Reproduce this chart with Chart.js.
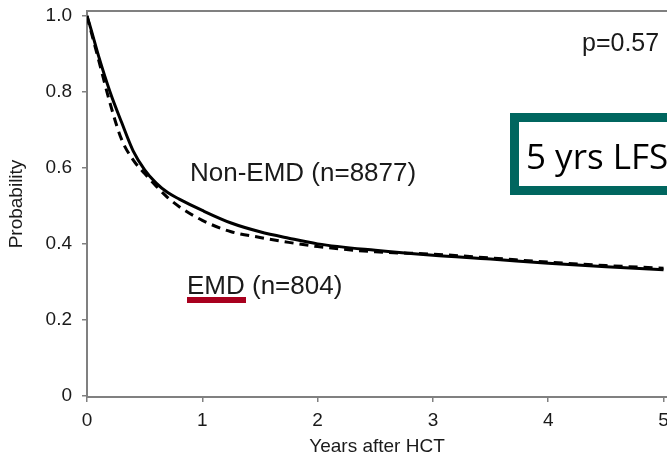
<!DOCTYPE html>
<html>
<head>
<meta charset="utf-8">
<script src="https://cdn.jsdelivr.net/npm/chart.js@4.4.0/dist/chart.umd.min.js"></script>
<style>
  html, body { margin: 0; padding: 0; background: #fff; overflow: hidden; }
  #wrap { width: 667px; height: 458px; position: relative; }
</style>
</head>
<body>
<div id="wrap"><canvas id="km"></canvas></div>
<script>
// years after HCT and survival probability
const years = [0, 0.03, 0.1, 0.2, 0.3, 0.4, 0.5, 0.6, 0.7, 0.8, 1.0, 1.25, 1.5, 1.75, 2.0, 2.5, 3.0, 3.5, 4.0, 4.5, 5.0];
const nonEmd = [1.0, 0.97, 0.895, 0.80, 0.72, 0.645, 0.595, 0.56, 0.535, 0.518, 0.488, 0.455, 0.432, 0.415, 0.40, 0.383, 0.37, 0.36, 0.349, 0.34, 0.332];
const emd = [1.0, 0.965, 0.885, 0.77, 0.675, 0.621, 0.585, 0.552, 0.522, 0.498, 0.462, 0.432, 0.417, 0.404, 0.393, 0.379, 0.373, 0.363, 0.352, 0.343, 0.336];
const xTicks = [0, 1, 2, 3, 4, 5];
const yTicks = [0, 0.2, 0.4, 0.6, 0.8, 1.0];

const gray = "#808080";
const font = "'Liberation Sans', Arial, sans-serif";

// labels, box and frame drawn on top of the chart
const extras = {
  id: "extras",
  afterDraw(chart) {
    const { ctx, chartArea } = chart;
    ctx.save();
    // top frame line
    ctx.strokeStyle = gray;
    ctx.lineWidth = 2;
    ctx.beginPath();
    ctx.moveTo(chartArea.left, chartArea.top);
    ctx.lineTo(chartArea.right, chartArea.top);
    ctx.stroke();

    ctx.fillStyle = "#1a1a1a";
    ctx.textBaseline = "alphabetic";
    ctx.font = "25px " + font;
    ctx.fillText("p=0.57", 582, 51);
    ctx.font = "26px " + font;
    ctx.fillText("Non-EMD (n=8877)", 190, 181);
    ctx.fillText("EMD (n=804)", 187, 294);

    // red underline under EMD
    ctx.fillStyle = "#a8001e";
    ctx.fillRect(187, 297, 59, 6);

    // teal box
    ctx.fillStyle = "#fff";
    ctx.fillRect(514, 117, 300, 74);
    ctx.strokeStyle = "#00665f";
    ctx.lineWidth = 9;
    ctx.strokeRect(514.5, 117.5, 300, 73);
    ctx.fillStyle = "#000";
    ctx.font = "35px 'Open Sans', sans-serif";
    ctx.fillText("5 yrs LFS", 526, 169);
    ctx.restore();
  }
};

new Chart(document.getElementById("km"), {
  type: "line",
  data: {
    datasets: [
      {
        label: "Non-EMD (n=8877)",
        data: years.map((t, i) => ({ x: t, y: nonEmd[i] })),
        borderColor: "#000",
        borderWidth: 3,
        pointRadius: 0,
        cubicInterpolationMode: "monotone",
      },
      {
        label: "EMD (n=804)",
        data: years.map((t, i) => ({ x: t, y: emd[i] })),
        borderColor: "#000",
        borderWidth: 3,
        borderDash: [9, 6],
        pointRadius: 0,
        cubicInterpolationMode: "monotone",
      },
    ],
  },
  options: {
    responsive: true,
    maintainAspectRatio: false,
    animation: false,
    layout: { padding: { top: 11, right: 0, left: 0, bottom: 0 } },
    plugins: {
      legend: { display: false },
      tooltip: { enabled: false },
    },
    scales: {
      x: {
        type: "linear",
        min: 0,
        max: 5.03,
        afterBuildTicks: (s) => { s.ticks = xTicks.map((v) => ({ value: v })); },
        afterFit: (s) => { s.height = 61; s.paddingLeft = 0; s.paddingRight = 0; },
        border: { color: gray, width: 2 },
        grid: { display: true, drawOnChartArea: false, drawTicks: true, tickLength: 5, color: gray, lineWidth: 1.5 },
        ticks: { color: "#1a1a1a", font: { family: font, size: 19 }, padding: 7, maxRotation: 0 },
        title: { display: true, text: "Years after HCT", color: "#1a1a1a", font: { family: font, size: 19 }, padding: { top: 6, bottom: 0 } },
      },
      y: {
        min: -0.003,
        max: 1.013,
        afterBuildTicks: (s) => { s.ticks = yTicks.map((v) => ({ value: v })); },
        afterFit: (s) => { s.width = 87; s.paddingTop = 0; s.paddingBottom = 0; },
        border: { color: gray, width: 2 },
        grid: { display: true, drawOnChartArea: false, drawTicks: true, tickLength: 5, color: gray, lineWidth: 1.5 },
        ticks: {
          color: "#1a1a1a",
          font: { family: font, size: 19 },
          padding: 10,
          callback: (v) => (v === 0 ? "0" : v.toFixed(1)),
        },
        title: { display: true, text: "Probability", color: "#1a1a1a", font: { family: font, size: 19 }, padding: { top: 5, bottom: 0 } },
      },
    },
  },
  plugins: [extras],
});
</script>
</body>
</html>
